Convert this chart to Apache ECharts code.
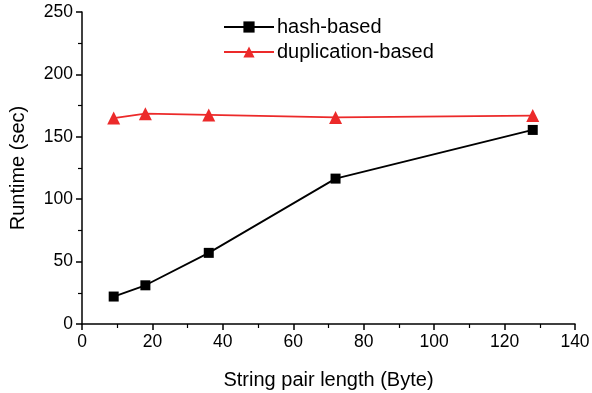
<!DOCTYPE html>
<html>
<head>
<meta charset="utf-8">
<script src="https://cdn.jsdelivr.net/npm/echarts@6/dist/echarts.min.js"></script>
<style>
  html, body { margin: 0; padding: 0; background: #fff; }
  #chart { width: 592px; height: 393px; }
</style>
</head>
<body>
<div id="chart"></div>
<script>
const lengths = [9, 18, 36, 72, 128];
const hashBased = [22, 31, 57, 116.5, 155.5];
const dupBased = [165, 168.5, 167.5, 165.5, 167];

const font = 'Liberation Sans, Arial, sans-serif';

function pairs(ys) {
  return lengths.map((x, i) => [x, ys[i]]);
}

const axisCommon = {
  type: 'value',
  axisLine: { show: true, onZero: false, lineStyle: { color: '#000', width: 1.5 } },
  axisTick: { show: true, inside: false, length: 6, lineStyle: { color: '#000', width: 1.5 } },
  minorTick: { show: true, splitNumber: 2, length: 4, lineStyle: { color: '#000', width: 1.2 } },
  splitLine: { show: false },
  axisLabel: { color: '#000', fontSize: 17.5, fontFamily: font, margin: 9 },
  nameTextStyle: { color: '#000', fontSize: 20, fontFamily: font },
  nameLocation: 'middle'
};

const chart = echarts.init(document.getElementById('chart'), null, { renderer: 'canvas' });
chart.setOption({
  animation: false,
  backgroundColor: '#fff',
  grid: { left: 82, right: 17, top: 12, bottom: 69, containLabel: false, outerBoundsMode: 'none' },
  legend: {
    orient: 'vertical',
    left: 218,
    top: 12,
    itemWidth: 50,
    itemHeight: 14,
    itemGap: 5,
    textStyle: { color: '#000', fontSize: 20, fontFamily: font, padding: [0, 0, 0, -2] },
    data: ['hash-based', 'duplication-based']
  },
  xAxis: Object.assign({}, axisCommon, {
    min: 0, max: 140, interval: 20,
    name: 'String pair length (Byte)',
    nameGap: 46
  }),
  yAxis: Object.assign({}, axisCommon, {
    min: 0, max: 250, interval: 50,
    name: 'Runtime (sec)',
    nameGap: 54
  }),
  series: [
    {
      name: 'hash-based',
      type: 'line',
      data: pairs(hashBased),
      symbol: 'rect',
      symbolSize: 10,
      itemStyle: { color: '#000' },
      lineStyle: { color: '#000', width: 1.8 }
    },
    {
      name: 'duplication-based',
      type: 'line',
      data: pairs(dupBased),
      symbol: 'triangle',
      symbolSize: 13,
      itemStyle: { color: '#ec2a2a' },
      lineStyle: { color: '#ec2a2a', width: 1.8 }
    }
  ]
});
</script>
</body>
</html>
